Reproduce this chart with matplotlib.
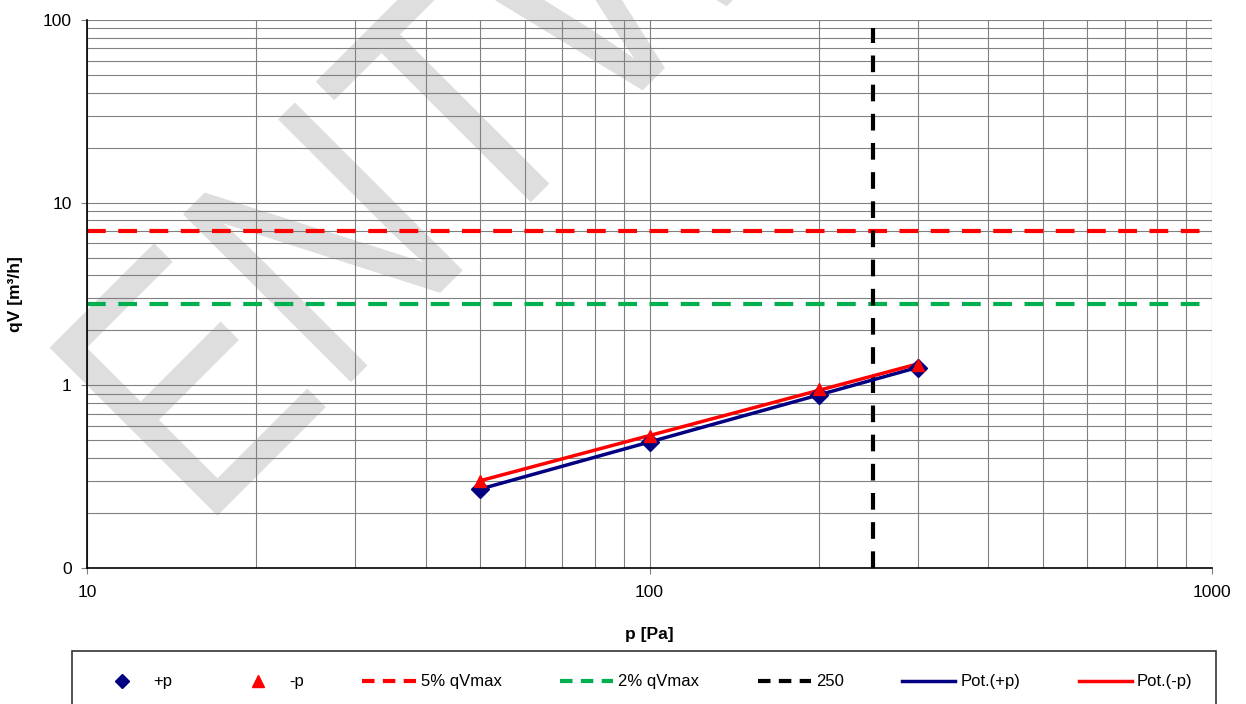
import numpy as np
import matplotlib.pyplot as plt
from matplotlib.lines import Line2D
from matplotlib.textpath import TextPath
from matplotlib.patches import PathPatch
from matplotlib.font_manager import FontProperties
from matplotlib.transforms import Affine2D, IdentityTransform

plt.rcParams['font.family'] = ['Liberation Sans', 'DejaVu Sans']

# measured leakage flow at positive / negative pressure
p_pos = [50, 100, 200, 300]
qv_pos = [0.27, 0.49, 0.89, 1.25]
p_neg = [50, 100, 200, 300]
qv_neg = [0.30, 0.53, 0.95, 1.30]

qv_max = 140
limit_5 = 0.05 * qv_max
limit_2 = 0.02 * qv_max
p_ref = 250

y_ticks = [0.1, 1, 10, 100]
y_ticklabels = ['0', '1', '10', '100']
x_ticks = [10, 100, 1000]
x_ticklabels = ['10', '100', '1000']


def power_fit(x, y):
    b, a = np.polyfit(np.log(x), np.log(y), 1)
    xs = np.array([min(x), max(x)])
    return xs, np.exp(a) * xs ** b


W, H = 1246, 704
fig = plt.figure(figsize=(W / 100, H / 100), dpi=100)
ax = fig.add_axes([87 / W, 1 - 568 / H, 1125 / W, 548 / H])
ax.set_xscale('log')
ax.set_yscale('log')

# watermark, slightly condensed and turned by 45 degrees (pixel coords)
tp = TextPath((0, 0), 'ENTWURF', size=1, prop=FontProperties(family='Liberation Sans'))
wm_tr = Affine2D().scale(283, 345).rotate_deg(45).translate(201, H - 532)
wm = PathPatch(wm_tr.transform_path(tp), facecolor='#dedede', edgecolor='none',
               transform=IdentityTransform(), zorder=0.8, clip_on=False)
ax.add_artist(wm)

ax.set_xlim(10, 1000)
ax.set_ylim(0.1, 100)

ax.grid(True, which='both', color='#808080', lw=0.8)
for s in ['top', 'right']:
    ax.spines[s].set_visible(False)
ax.spines['left'].set_linewidth(1.2)
ax.spines['bottom'].set_linewidth(1.2)

ax.set_xticks(x_ticks)
ax.set_xticklabels(x_ticklabels)
ax.set_yticks(y_ticks)
ax.set_yticklabels(y_ticklabels)
ax.tick_params(which='major', labelsize=12.5, length=4, color='#808080')
ax.tick_params(which='minor', length=0)
ax.tick_params(axis='x', pad=8)
ax.tick_params(axis='y', pad=7)

ax.axhline(limit_5, color='#ff0000', lw=3, dashes=(4.5, 3))
ax.axhline(limit_2, color='#00b050', lw=3, dashes=(4.5, 3))
ax.axvline(p_ref, ymax=0.985, color='black', lw=3, dashes=(4, 3))

xf, yf = power_fit(p_pos, qv_pos)
ax.plot(xf, yf, color='#000080', lw=2.5, zorder=3)
xf, yf = power_fit(p_neg, qv_neg)
ax.plot(xf, yf, color='#ff0000', lw=2.5, zorder=3)
ax.plot(p_pos, qv_pos, 'D', color='#000080', ms=9, zorder=4, mec='#000080')
ax.plot(p_neg, qv_neg, '^', color='#ff0000', ms=9, zorder=4)

ax.set_xlabel('p [Pa]', fontsize=12.5, fontweight='bold', labelpad=20)
ax.set_ylabel('qV [m³/h]', fontsize=12.5, fontweight='bold', labelpad=14)

handles = [
    Line2D([], [], ls='none', marker='D', color='#000080', ms=7),
    Line2D([], [], ls='none', marker='^', color='#ff0000', ms=8),
    Line2D([], [], color='#ff0000', lw=3, dashes=(3, 2)),
    Line2D([], [], color='#00b050', lw=3, dashes=(3, 2)),
    Line2D([], [], color='black', lw=3, dashes=(3, 2)),
    Line2D([], [], color='#000080', lw=2.5),
    Line2D([], [], color='#ff0000', lw=2.5),
]
labels = ['+p', '-p', '5% qVmax', '2% qVmax', '250', 'Pot.(+p)', 'Pot.(-p)']
leg = fig.legend(handles, labels, loc='lower left', ncol=7, mode='expand',
                 bbox_to_anchor=(72 / W, -0.0124, 1144 / W, 0.1),
                 fontsize=12, frameon=True, fancybox=False, handlelength=3.2,
                 borderpad=1.4, handletextpad=0.3, borderaxespad=0)
leg.get_frame().set_edgecolor('black')
leg.get_frame().set_linewidth(1.2)

fig.savefig('out.png', dpi=100)
